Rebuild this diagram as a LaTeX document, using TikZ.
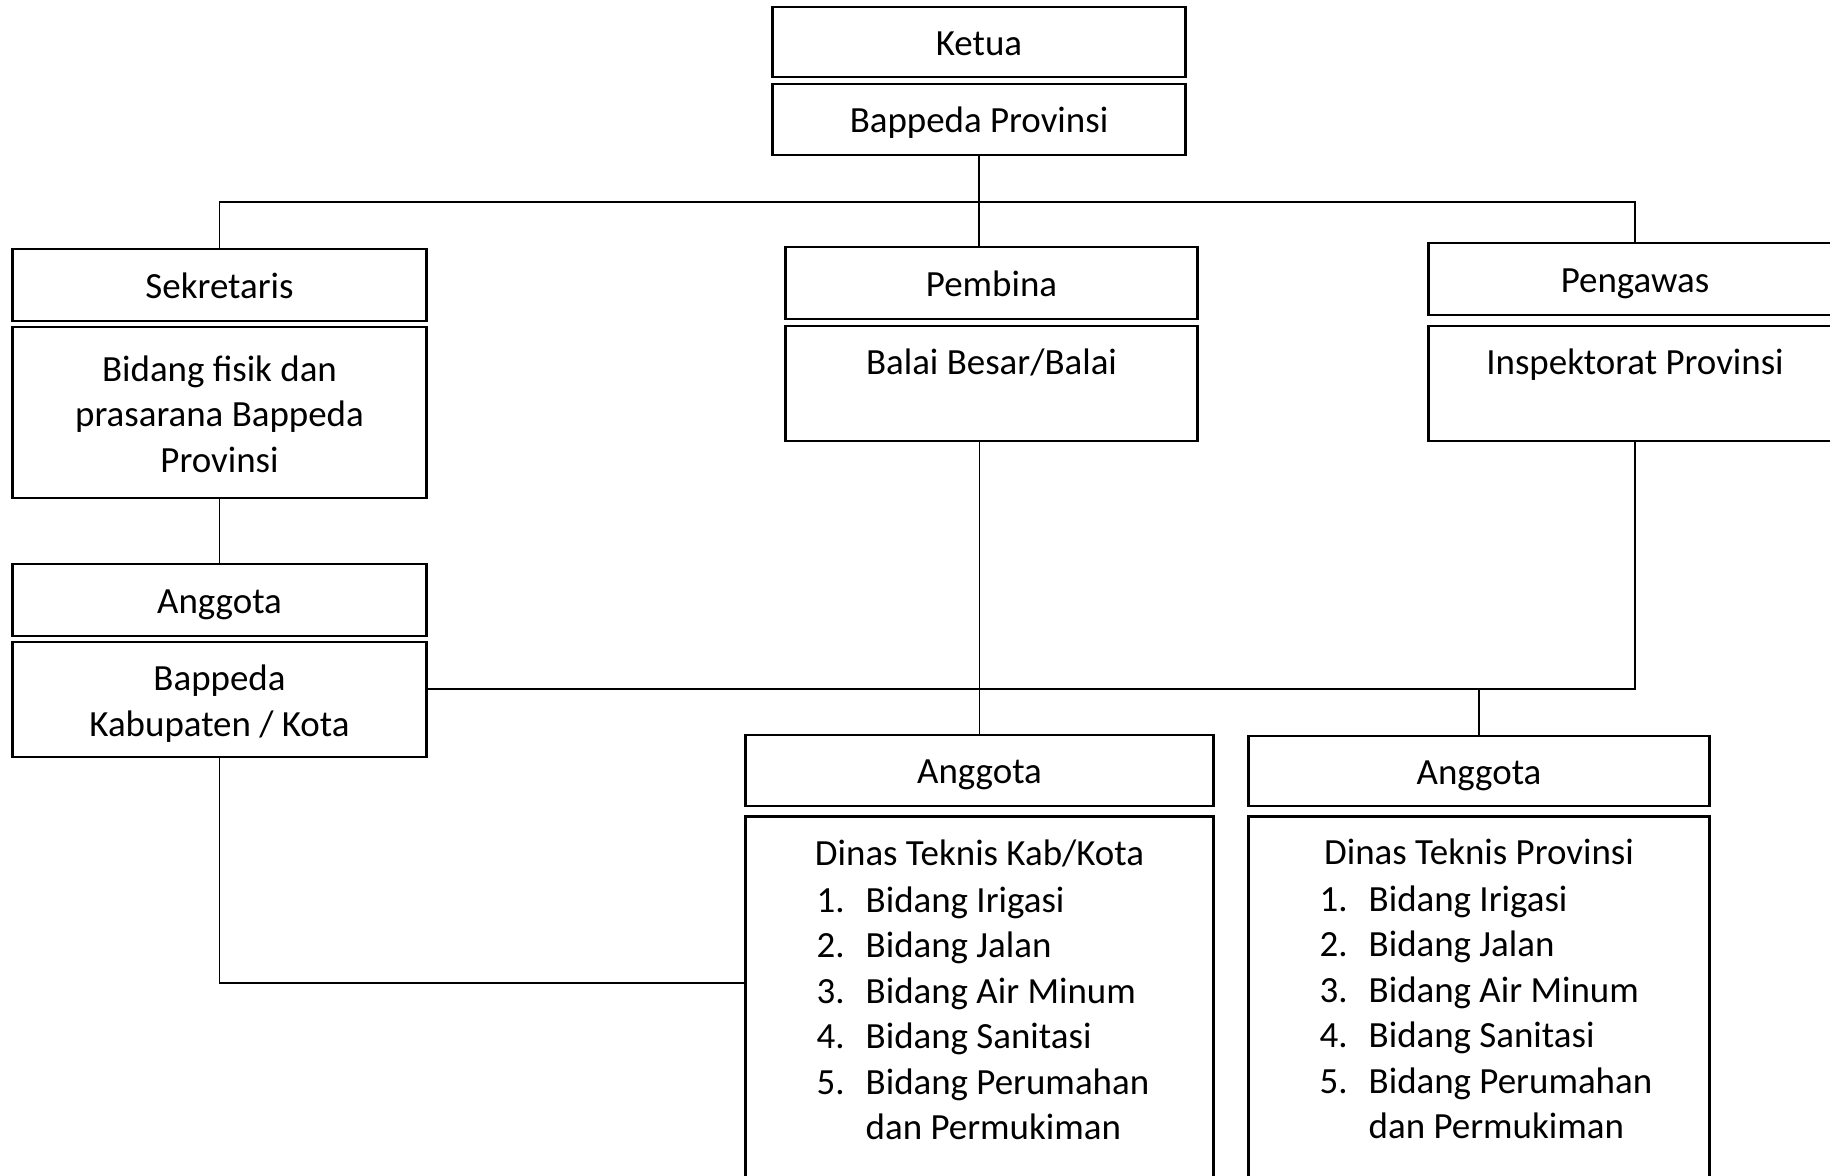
\documentclass[tikz,border=0pt]{standalone}
\usepackage{fontspec}
\setmainfont{Carlito}
\usetikzlibrary{positioning}
\newcommand{\itm}[2]{\makebox[0.49cm][l]{#1}#2\strut}
\newcommand{\tinggi}{\rule{0pt}{0.42cm}}

\begin{document}
\begin{tikzpicture}[x=0.01cm, y=-0.01cm, font=\fontsize{10.5pt}{12.95pt}\selectfont]
  \tikzset{ kotak/.style={draw,line width=0.8pt,inner sep=0pt,align=center},
            satu/.style={kotak,text height=0.34cm,text depth=0.08cm},
            garis/.style={line width=0.4pt},
  }
  \useasboundingbox (0,0) rectangle (1830,1176);

  \node[satu, minimum width=4.12cm, minimum height=0.70cm] (ketua) at (979,42) {Ketua};
  \node[satu, minimum width=4.12cm, minimum height=0.71cm] (bappedaprov) at (979,119.5) {Bappeda Provinsi};

  \node[satu, minimum width=4.13cm, minimum height=0.72cm] (sekretaris) at (219.5,285) {Sekretaris};
  \node[kotak, minimum width=4.13cm, minimum height=1.71cm] (bidangfisik) at (219.5,412.5) {\tinggi Bidang fisik dan\strut\\prasarana Bappeda\strut\\Provinsi\strut};

  \node[satu, minimum width=4.11cm, minimum height=0.72cm] (pembina) at (991.5,283) {Pembina};
  \node[kotak, minimum width=4.11cm, text height=0.49cm, text depth=0.66cm] (balai) at (991.5,383.5) {Balai Besar/Balai};

  \node[satu, minimum width=4.12cm, minimum height=0.72cm] (pengawas) at (1635,279) {Pengawas};
  \node[kotak, minimum width=4.12cm, text height=0.49cm, text depth=0.66cm] (inspektorat) at (1635,383.5) {Inspektorat Provinsi};

  \node[satu, minimum width=4.13cm, minimum height=0.72cm] (anggotakab) at (219.5,600) {Anggota};
  \node[kotak, minimum width=4.13cm, minimum height=1.15cm] (bappedakab) at (219.5,699.5) {\tinggi Bappeda\strut\\Kabupaten / Kota\strut};

  \node[satu, minimum width=4.67cm, minimum height=0.71cm] (anggotamid) at (979.5,770.5) {Anggota};
  \node[kotak, minimum width=4.67cm, minimum height=3.83cm] (dinaskab) at (979.5,1008.5) {};
  \node[anchor=base, inner sep=0pt] (kabhead) at (979.5,865.5) {Dinas Teknis Kab/Kota};
  \node[anchor=north west, inner sep=0pt, align=left] (kablist) at (816,879.5) {%
    \itm{1.}{Bidang Irigasi}\\ \itm{2.}{Bidang Jalan}\\ \itm{3.}{Bidang Air Minum}\\
    \itm{4.}{Bidang Sanitasi}\\ \itm{5.}{Bidang Perumahan}\\ \itm{}{dan Permukiman}};

  \node[satu, minimum width=4.60cm, minimum height=0.70cm] (anggotaprov) at (1479,771) {Anggota};
  \node[kotak, minimum width=4.60cm, minimum height=3.83cm] (dinasprov) at (1479,1008.5) {};
  \node[anchor=base, inner sep=0pt] (provhead) at (1479,864.5) {Dinas Teknis Provinsi};
  \node[anchor=north west, inner sep=0pt, align=left] (provlist) at (1319,878.5) {%
    \itm{1.}{Bidang Irigasi}\\ \itm{2.}{Bidang Jalan}\\ \itm{3.}{Bidang Air Minum}\\
    \itm{4.}{Bidang Sanitasi}\\ \itm{5.}{Bidang Perumahan}\\ \itm{}{dan Permukiman}};

  \coordinate (topbus) at (977,202);
  \coordinate (midbus) at (977,689);
  \coordinate (lowbus) at (0,983);

  \draw[garis] (bappedaprov.south) -- (bappedaprov.south |- pembina.north);
  \draw[garis] (sekretaris.north) |- (topbus) -| (pengawas.north);
  \draw[garis] (bidangfisik.south) -- (anggotakab.north);
  \draw[garis] (balai.south -| anggotamid.north) -- (anggotamid.north);
  \draw[garis] (bappedakab.east |- midbus) -| (inspektorat.south);
  \draw[garis] (anggotaprov.north |- midbus) -- (anggotaprov.north);
  \draw[garis] (bappedakab.south) |- (dinaskab.west |- lowbus);
\end{tikzpicture}
\end{document}
